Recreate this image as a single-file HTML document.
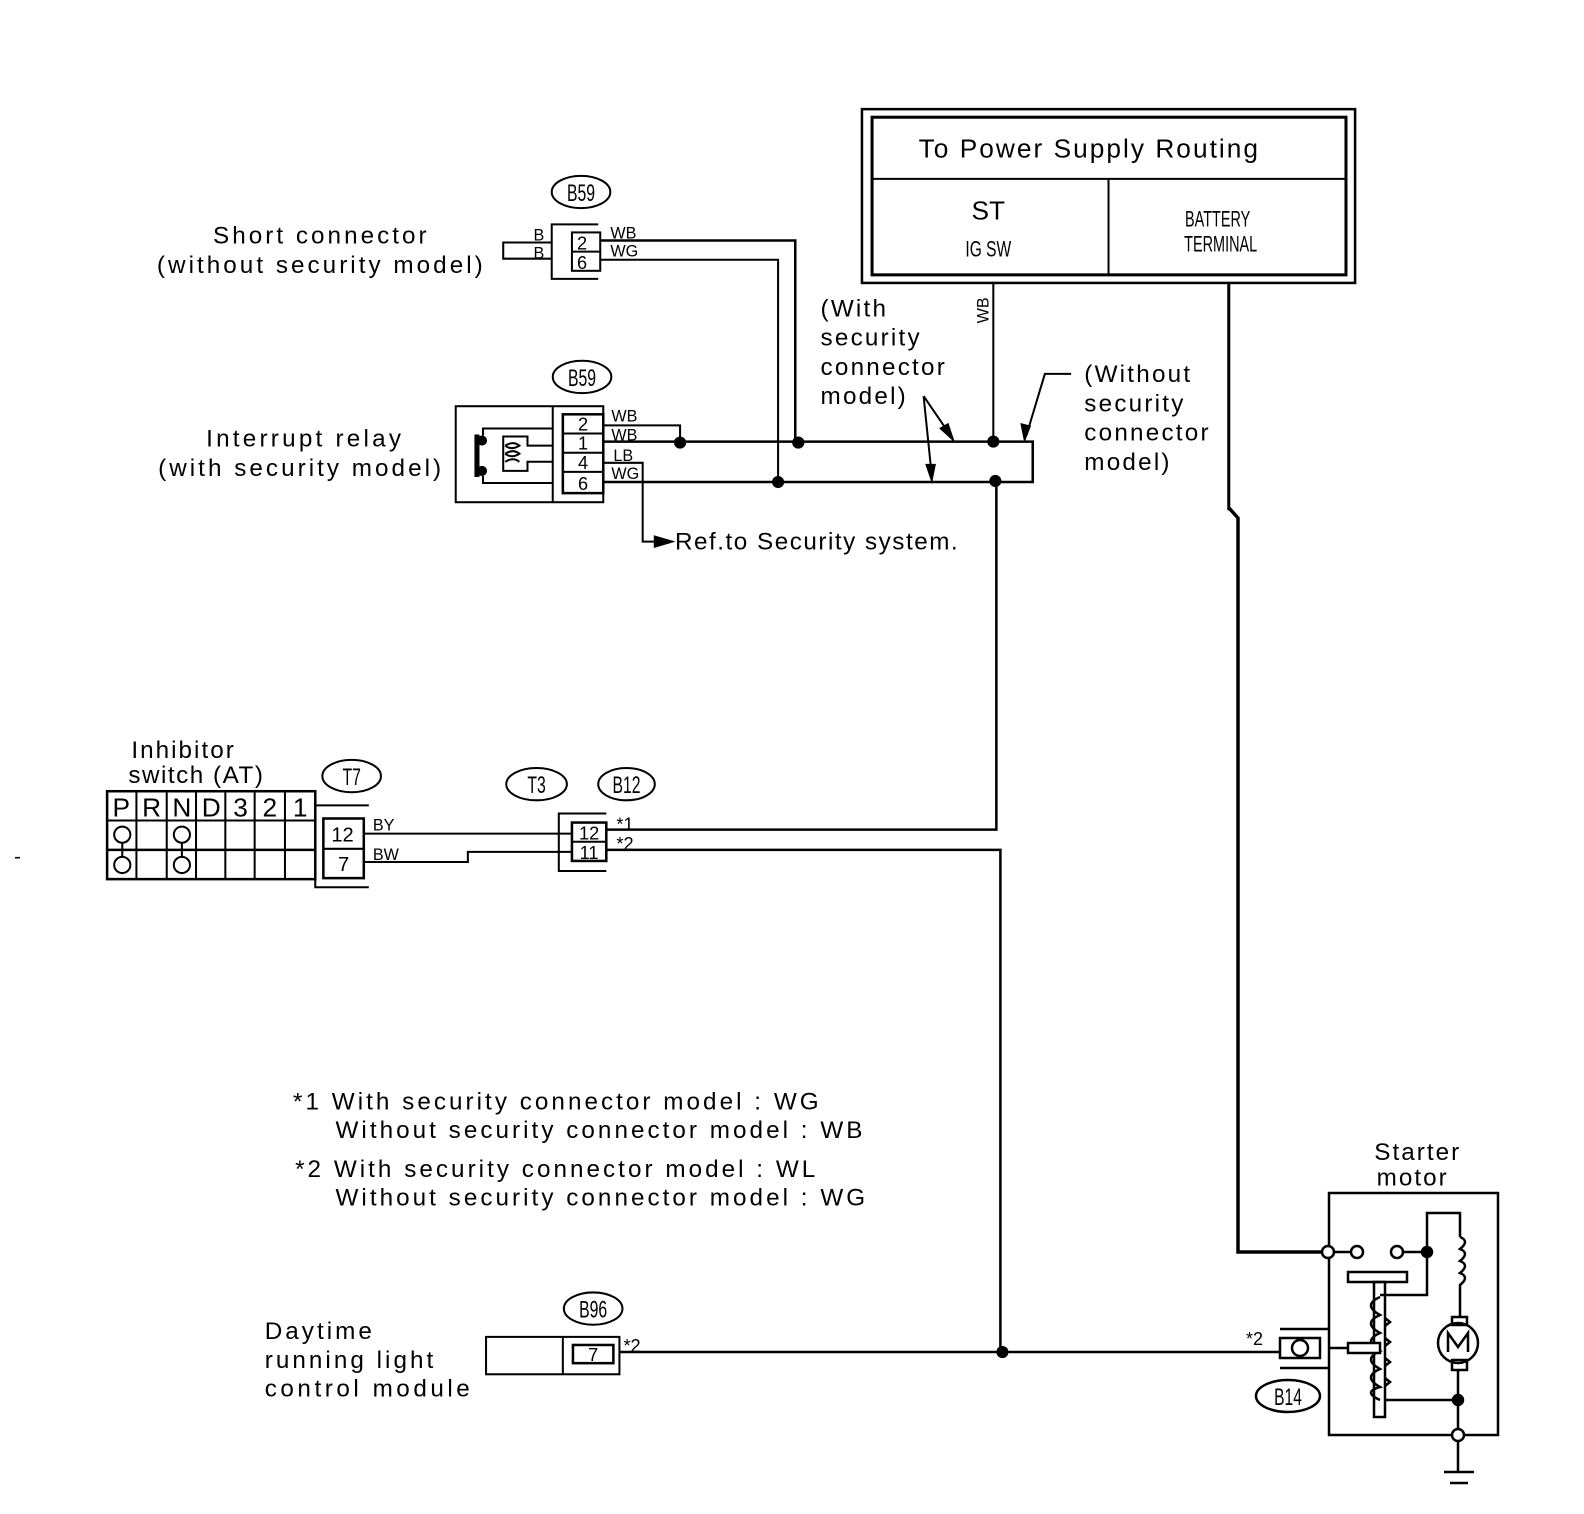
<!DOCTYPE html>
<html><head><meta charset="utf-8"><style>
html,body{margin:0;padding:0;background:#fff}
svg{display:block}
text{font-family:"Liberation Sans",sans-serif;fill:#000}
</style></head><body>
<svg width="1584" height="1514" xmlns="http://www.w3.org/2000/svg">
<rect width="1584" height="1514" fill="#fff"/>
<g transform="scale(1.0105)" stroke="#000" fill="none" stroke-width="2">
<!-- top box -->
<rect x="853" y="108" width="488" height="172" stroke-width="2.5"/>
<rect x="863" y="116" width="469" height="156" stroke-width="3"/>
<line x1="863" y1="177" x2="1332" y2="177"/>
<line x1="1097" y1="177" x2="1097" y2="272"/>
<g stroke="none">
<text x="1078" y="156" font-size="26" text-anchor="middle" letter-spacing="2">To Power Supply Routing</text>
<text x="978" y="217" font-size="26" text-anchor="middle">ST</text>
<text x="978" y="254" font-size="22" text-anchor="middle" transform="translate(978 0) scale(0.7 1) translate(-978 0)">IG SW</text>
<text x="1205" y="224" font-size="22" text-anchor="middle" transform="translate(1205 0) scale(0.65 1) translate(-1205 0)">BATTERY</text>
<text x="1208" y="249" font-size="22" text-anchor="middle" transform="translate(1208 0) scale(0.65 1) translate(-1208 0)">TERMINAL</text>
<text font-size="16" transform="translate(978 320) rotate(-90)">WB</text>
</g>
<line x1="983" y1="280" x2="983" y2="437"/>
<line x1="1216" y1="280" x2="1216" y2="505" stroke-width="3"/>

<!-- B59 top -->
<ellipse cx="575" cy="190" rx="29" ry="16"/>
<path d="M592 222 H546 V276 H592"/>
<rect x="566" y="230" width="28" height="38"/>
<line x1="566" y1="249" x2="594" y2="249"/>
<path d="M546 240 H498 V256 H546"/>
<g stroke="none" font-size="18">
<text x="575" y="199" text-anchor="middle" font-size="24" transform="translate(575 0) scale(0.65 1) translate(-575 0)">B59</text>
<text x="576" y="247" text-anchor="middle">2</text>
<text x="576" y="266" text-anchor="middle">6</text>
<text x="528" y="238" font-size="16">B</text>
<text x="528" y="256" font-size="16">B</text>
<text x="604" y="236" font-size="16">WB</text>
<text x="604" y="254" font-size="16">WG</text>
<text x="318" y="241" font-size="24" text-anchor="middle" letter-spacing="3">Short connector</text>
<text x="318" y="270" font-size="24" text-anchor="middle" letter-spacing="3">(without security model)</text>
</g>
<path d="M594 238 H787 V437" stroke-width="2.5"/>
<path d="M594 257 H770 V477"/>

<!-- B59 lower / relay -->
<ellipse cx="576" cy="373" rx="29" ry="16"/>
<rect x="451" y="402" width="146" height="95"/>
<line x1="547" y1="402" x2="547" y2="497"/>
<rect x="557" y="410" width="40" height="78" stroke-width="2.5"/>
<line x1="557" y1="429" x2="597" y2="429"/>
<line x1="557" y1="448" x2="597" y2="448"/>
<line x1="557" y1="467" x2="597" y2="467"/>
<line x1="472" y1="430" x2="472" y2="472" stroke-width="5"/>
<circle cx="477" cy="436" r="4" fill="#000"/>
<circle cx="477" cy="466" r="4" fill="#000"/>
<path d="M478 431 V424 H547 M478 471 V478 H547"/>
<path d="M547 441 H522 V432 H498 V466 H522 V457 H547"/>
<path d="M500 441 q8 -5 14 0 q-8 5 -14 0 M500 449 q8 -5 14 0 q-8 5 -14 0 M500 457 q8 -5 14 0"/>
<g stroke="none" font-size="18">
<text x="576" y="382" text-anchor="middle" font-size="24" transform="translate(576 0) scale(0.65 1) translate(-576 0)">B59</text>
<text x="577" y="426" text-anchor="middle">2</text>
<text x="577" y="445" text-anchor="middle">1</text>
<text x="577" y="464" text-anchor="middle">4</text>
<text x="577" y="485" text-anchor="middle">6</text>
<text x="605" y="417" font-size="16">WB</text>
<text x="605" y="436" font-size="16">WB</text>
<text x="607" y="456" font-size="16">LB</text>
<text x="605" y="474" font-size="16">WG</text>
<text x="302" y="442" font-size="24" text-anchor="middle" letter-spacing="3.2">Interrupt relay</text>
<text x="298" y="471" font-size="24" text-anchor="middle" letter-spacing="3">(with security model)</text>
<text x="668" y="544" font-size="24" letter-spacing="1.5">Ref.to Security system.</text>
<text x="812" y="313" font-size="24" letter-spacing="2.2">(With</text>
<text x="812" y="342" font-size="24" letter-spacing="2.2">security</text>
<text x="812" y="371" font-size="24" letter-spacing="2.2">connector</text>
<text x="812" y="400" font-size="24" letter-spacing="2.2">model)</text>
<text x="1073" y="378" font-size="24" letter-spacing="2.2">(Without</text>
<text x="1073" y="407" font-size="24" letter-spacing="2.2">security</text>
<text x="1073" y="436" font-size="24" letter-spacing="2.2">connector</text>
<text x="1073" y="465" font-size="24" letter-spacing="2.2">model)</text>
</g>
<path d="M597 421 H673 V437"/>
<path d="M597 437 H1022 V477 H597" stroke-width="2.5"/>
<path d="M597 458 H636 V536 H650"/>
<path d="M665 536 L648 531 L648 541 Z" fill="#000"/>
<g fill="#000" stroke="none">
<circle cx="673" cy="438" r="6"/><circle cx="790" cy="438" r="6"/><circle cx="983" cy="437" r="6"/>
<circle cx="770" cy="477" r="6"/><circle cx="985" cy="476" r="6"/>
</g>
<!-- arrows -->
<path d="M914 392 L940 430 M914 392 L922 470 M1060 370 H1034 L1016 430"/>
<path d="M943 435 L931 424 L938 420 Z M922 475 L917 460 L925 460 Z M1014 435 L1011 420 L1019 422 Z" fill="#000"/>

<!-- vertical main wire -->
<path d="M986 477 V821 H600" stroke-width="2.5"/>

<!-- Inhibitor switch -->
<rect x="106" y="783" width="206" height="87" stroke-width="2.5"/>
<line x1="106" y1="812" x2="312" y2="812"/>
<line x1="106" y1="841" x2="312" y2="841" stroke-width="2.5"/>
<g>
<line x1="135" y1="783" x2="135" y2="870"/><line x1="165" y1="783" x2="165" y2="870"/>
<line x1="194" y1="783" x2="194" y2="870"/><line x1="223" y1="783" x2="223" y2="870"/>
<line x1="252" y1="783" x2="252" y2="870"/><line x1="282" y1="783" x2="282" y2="870"/>
</g>
<circle cx="121" cy="826" r="8"/><circle cx="121" cy="856" r="8"/><line x1="121" y1="834" x2="121" y2="848"/>
<circle cx="180" cy="826" r="8"/><circle cx="180" cy="856" r="8"/><line x1="180" y1="834" x2="180" y2="848"/>
<g stroke="none" font-size="26" text-anchor="middle">
<text x="120" y="808">P</text><text x="150" y="808">R</text><text x="180" y="808">N</text>
<text x="209" y="808">D</text><text x="238" y="808">3</text><text x="267" y="808">2</text><text x="297" y="808">1</text>
</g>
<ellipse cx="348" cy="768" rx="29" ry="16"/>
<path d="M365 797 H312 V878 H365"/>
<rect x="320" y="810" width="40" height="59" stroke-width="2.5"/>
<line x1="320" y1="840" x2="360" y2="840"/>
<ellipse cx="531" cy="776" rx="30" ry="16"/>
<ellipse cx="620" cy="776" rx="28" ry="16"/>
<path d="M600 805 H553 V862 H600"/>
<rect x="566" y="814" width="34" height="38" stroke-width="2.5"/>
<line x1="566" y1="833" x2="600" y2="833"/>
<path d="M360 825 H566"/>
<path d="M360 853 H463 V843 H566"/>
<g stroke="none">
<text x="130" y="750" font-size="24" letter-spacing="2">Inhibitor</text>
<text x="127" y="775" font-size="24" letter-spacing="1.5">switch (AT)</text>
<text x="348" y="777" font-size="24" text-anchor="middle" transform="translate(348 0) scale(0.65 1) translate(-348 0)">T7</text>
<text x="531" y="785" font-size="24" text-anchor="middle" transform="translate(531 0) scale(0.65 1) translate(-531 0)">T3</text>
<text x="620" y="785" font-size="24" text-anchor="middle" transform="translate(620 0) scale(0.65 1) translate(-620 0)">B12</text>
<text x="339" y="833" font-size="20" text-anchor="middle">12</text>
<text x="340" y="862" font-size="20" text-anchor="middle">7</text>
<text x="583" y="831" font-size="18" text-anchor="middle">12</text>
<text x="583" y="850" font-size="18" text-anchor="middle">11</text>
<text x="369" y="822" font-size="16">BY</text>
<text x="369" y="851" font-size="16">BW</text>
<text x="610" y="822" font-size="18">*1</text>
<text x="610" y="841" font-size="18">*2</text>
<text x="14" y="854" font-size="20">-</text>
<text x="290" y="1098" font-size="24" letter-spacing="3">*1 With security connector model : WG</text>
<text x="332" y="1126" font-size="24" letter-spacing="3">Without security connector model : WB</text>
<text x="292" y="1165" font-size="24" letter-spacing="3">*2 With security connector model : WL</text>
<text x="332" y="1193" font-size="24" letter-spacing="3">Without security connector model : WG</text>
<text x="1403" y="1148" font-size="24" text-anchor="middle" letter-spacing="2">Starter</text>
<text x="1398" y="1173" font-size="24" text-anchor="middle" letter-spacing="2">motor</text>
<text x="262" y="1325" font-size="24" letter-spacing="3">Daytime</text>
<text x="262" y="1354" font-size="24" letter-spacing="3">running light</text>
<text x="262" y="1382" font-size="24" letter-spacing="3.5">control module</text>
<text x="587" y="1304" font-size="24" text-anchor="middle" transform="translate(587 0) scale(0.65 1) translate(-587 0)">B96</text>
<text x="587" y="1347" font-size="18" text-anchor="middle">7</text>
<text x="617" y="1338" font-size="18">*2</text>
</g>
<path d="M600 841 H990 V1338" stroke-width="2.5"/>
<path d="M613 1338 H1267" stroke-width="2.5"/>
<circle cx="992" cy="1338" r="6" fill="#000" stroke="none"/>
<ellipse cx="587" cy="1295" rx="29" ry="16"/>
<rect x="481" y="1323" width="132" height="37"/>
<line x1="557" y1="1323" x2="557" y2="1360"/>
<rect x="567" y="1331" width="40" height="18" stroke-width="2.5"/>
</g>

<!-- starter motor (actual coords) -->
<g stroke="#000" fill="none" stroke-width="2.5">
<path d="M1229 508 L1238 518 V1252 H1322" stroke-width="3.5"/>
<rect x="1329" y="1193" width="169" height="242"/>
<circle cx="1328" cy="1252" r="6" fill="#fff"/>
<line x1="1334" y1="1252" x2="1351" y2="1252"/>
<circle cx="1357" cy="1252" r="6" fill="#fff"/>
<circle cx="1397" cy="1252" r="6" fill="#fff"/>
<line x1="1403" y1="1252" x2="1427" y2="1252"/>
<circle cx="1427" cy="1252" r="5" fill="#000"/>
<path d="M1427 1252 V1213 H1460 V1237"/>
<path d="M1460 1237 q10 4 0 12 q10 4 0 12 q10 4 0 12 q10 4 0 12 V1317"/>
<rect x="1452" y="1317" width="15" height="8"/>
<circle cx="1458" cy="1343" r="20"/>
<path d="M1448 1352 V1333 L1458 1347 L1468 1333 V1352"/>
<rect x="1452" y="1360" width="15" height="10"/>
<path d="M1458 1370 V1435"/>
<circle cx="1458" cy="1400" r="5" fill="#000"/>
<circle cx="1458" cy="1435" r="6" fill="#fff"/>
<path d="M1458 1441 V1472"/>
<line x1="1444" y1="1472" x2="1474" y2="1472"/>
<line x1="1450" y1="1483" x2="1468" y2="1483"/>
<path d="M1427 1252 V1295 H1380"/>
<rect x="1348" y="1272" width="59" height="10"/>
<rect x="1374" y="1282" width="11" height="135"/>
<path d="M1385 1400 H1458"/>
<path d="M1380 1297 q-18 8 0 18 q-18 8 0 18 q-18 8 0 18 q-18 8 0 18 q-18 8 0 18 q-18 5 0 13"/>
<path d="M1385 1318 l5 4 l-5 4 M1385 1338 l5 4 l-5 4 M1385 1358 l5 4 l-5 4 M1385 1378 l5 4 l-5 4"/>
<rect x="1348" y="1343" width="32" height="10" fill="#fff"/>
<line x1="1329" y1="1348" x2="1348" y2="1348"/>
<line x1="1280" y1="1329" x2="1329" y2="1329"/>
<line x1="1280" y1="1368" x2="1329" y2="1368"/>
<rect x="1280" y="1338" width="40" height="20"/>
<ellipse cx="1300" cy="1348" rx="8" ry="8"/>
<ellipse cx="1288" cy="1396" rx="32" ry="16"/>
</g>
<g>
<text x="1246" y="1345" font-size="18">*2</text>
<text x="1288" y="1405" font-size="24" text-anchor="middle" transform="translate(1288 0) scale(0.65 1) translate(-1288 0)">B14</text>
</g>
</svg>
</body></html>
